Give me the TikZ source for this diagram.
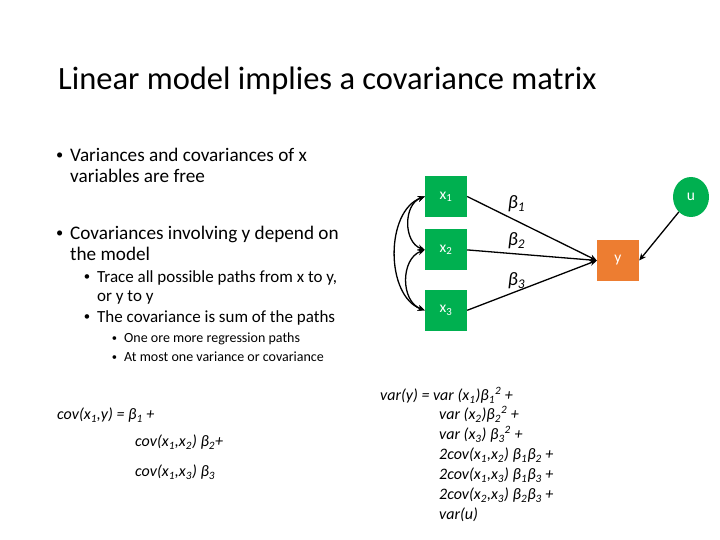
\documentclass[tikz,border=0pt]{standalone}
\usepackage{fontspec}
\setmainfont{Carlito}
\usetikzlibrary{arrows.meta,positioning,shapes.geometric}
\definecolor{xgreen}{RGB}{0,176,80}
\definecolor{yorange}{RGB}{237,125,49}
\newcommand{\itembullet}{\llap{\raisebox{0.12em}{\scalebox{0.75}{•}}\hspace{7pt}}}

\begin{document}
\begin{tikzpicture}[
  x=1pt, y=-1pt,
  title/.style={anchor=base west, inner sep=0pt, font=\fontsize{32.5}{38}\selectfont},
  lvl1/.style={anchor=north west, inner sep=0pt, align=left, font=\fontsize{19.2}{21}\selectfont},
  lvl2/.style={anchor=north west, inner sep=0pt, align=left, font=\fontsize{17}{19}\selectfont},
  lvl3/.style={anchor=north west, inner sep=0pt, align=left, font=\fontsize{14}{19}\selectfont},
  eq/.style={anchor=north west, inner sep=0pt, align=left, font=\fontsize{16}{20}\selectfont\itshape},
  obs/.style={fill=#1, text=white, minimum width=42pt, minimum height=41pt, inner sep=0pt, font=\fontsize{15.5}{17}\selectfont},
  xvar/.style={obs=xgreen},
  yvar/.style={obs=yorange},
  err/.style={ellipse, fill=xgreen, text=white, minimum width=36pt, minimum height=40pt, inner sep=0pt, font=\fontsize{15.5}{17}\selectfont},
  arr/.style={-{Stealth[length=7pt,width=6pt]}, line width=1.3pt},
  dbl/.style={{Stealth[length=7pt,width=6pt]}-{Stealth[length=7pt,width=6pt]}, line width=1.3pt},
  lbl/.style={font=\fontsize{19}{21}\selectfont\itshape, inner sep=0pt}
]
\useasboundingbox (0,0) rectangle (720,540);

\node[title] (head) at (58,90) {Linear model implies a covariance matrix};

\node[lvl1] (free) at (70,148) {\itembullet Variances and covariances of x\\variables are free};
\node[lvl1] (dep) at (70,226) {\itembullet Covariances involving y depend on\\the model};
\node[lvl2] (trace) at (97,270.5) {\itembullet Trace all possible paths from x to y,\\or y to y};
\node[lvl2] (sum) at (97,310.5) {\itembullet The covariance is sum of the paths};
\node[lvl3] (rules) at (124,333) {\itembullet One ore more regression paths\\\itembullet At most one variance or covariance};

% path diagram
\node[xvar] (x1) at (446,196.5) {x\textsubscript{1}};
\node[xvar, below=12pt of x1] (x2) {x\textsubscript{2}};
\node[xvar, below=19pt of x2] (x3) {x\textsubscript{3}};
\node[yvar] (y) at (618,260.5) {y};
\node[err] (u) at (691,197) {u};

\draw[arr] (x1.east) -- node[lbl, pos=0.38, above=8pt] {β\textsubscript{1}} (y.west);
\draw[arr] (x2.east) -- node[lbl, pos=0.38, above=4pt] {β\textsubscript{2}} (y.west);
\draw[arr] (x3.east) -- node[lbl, pos=0.38, above=2pt] {β\textsubscript{3}} (y.west);
\draw[arr] (u) -- (y.east);

\draw[dbl] (x1.west) to[out=200, in=160, looseness=1.1] (x2.west);
\draw[dbl] (x2.west) to[out=200, in=160, looseness=1.1] (x3.west);
\draw[dbl] (x1.west) to[out=200, in=160, looseness=0.95] (x3.west);

% equations
\node[eq] (covxy) at (57,408) {cov(x\textsubscript{1},y) = β\textsubscript{1} +};
\node[eq] (covrest) at (135,435) {cov(x\textsubscript{1},x\textsubscript{2}) β\textsubscript{2}+\\[10pt]cov(x\textsubscript{1},x\textsubscript{3}) β\textsubscript{3}};
\node[eq] (vary) at (380,387) {var(y) = var (x\textsubscript{1})β\textsubscript{1}\textsuperscript{2} +};
\node[eq] (varrest) at (439,406) {var (x\textsubscript{2})β\textsubscript{2}\textsuperscript{2} +\\
var (x\textsubscript{3}) β\textsubscript{3}\textsuperscript{2} +\\
2cov(x\textsubscript{1},x\textsubscript{2}) β\textsubscript{1}β\textsubscript{2} +\\
2cov(x\textsubscript{1},x\textsubscript{3}) β\textsubscript{1}β\textsubscript{3} +\\
2cov(x\textsubscript{2},x\textsubscript{3}) β\textsubscript{2}β\textsubscript{3} +\\
var(u)};

\end{tikzpicture}
\end{document}
